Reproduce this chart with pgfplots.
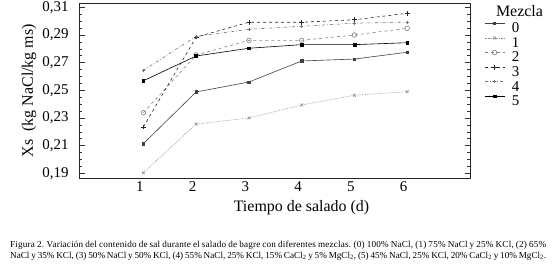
\documentclass[border=0pt]{standalone}
\usepackage{fontspec}
\setmainfont{Liberation Serif}
\usepackage{pgfplots}
\pgfplotsset{compat=1.18}
\begin{document}
\begin{tikzpicture}
\useasboundingbox (0,0) rectangle (556bp,267bp);
\begin{axis}[
  at={(79bp,89bp)}, anchor=south west,
  scale only axis, width=391bp, height=174.7bp,
  xmin=-0.22, xmax=7.19, ymin=0.1866, ymax=0.3129,
  xtick={1,2,3,4,5,6}, xticklabels={1,2,3,4,5,6},
  ytick={0.19,0.21,0.23,0.25,0.27,0.29,0.31},
  yticklabels={{0,19},{0,21},{0,23},{0,25},{0,27},{0,29},{0,31}},
  minor y tick num=3,
  tick align=inside,
  major tick length=5.5bp, minor tick length=3.3bp,
  xtick style={draw=none},
  ytick style={black!80, line width=0.5pt},
  axis line style={black!85, line width=0.8pt},
  /pgf/number format/assume math mode=true,
  ticklabel style={font=\fontsize{15}{15}\selectfont},
  xticklabel style={xshift=-3.5bp},
  yticklabel style={xshift=-7bp},
  xlabel={Tiempo de salado (d)},
  ylabel={Xs\ \ (kg NaCl/kg ms)},
  label style={font=\fontsize{16}{16}\selectfont},
  xlabel style={at={(axis description cs:0.569,-0.17)}, anchor=center},
  ylabel style={at={(axis description cs:-0.128,0.5)}, anchor=center, rotate=0},
  legend style={at={(axis description cs:1.036,0.905)}, anchor=north west,
    draw=none, fill=none, inner sep=0pt,
    font=\fontsize{15}{15}\selectfont,
    cells={anchor=west},
    /tikz/every odd column/.append style={column sep=5bp},
    nodes={inner sep=2bp, text height=10.6bp, text depth=0bp}},
  legend image code/.code={\draw[mark repeat=2,mark phase=2,#1] plot coordinates {(0bp,4bp)(10bp,4bp)(20bp,4bp)};},
  every axis plot/.append style={line width=0.6pt},
]
\addplot[black!75, solid, mark=square*, mark size=1.2pt, mark options={solid}] coordinates {(1,0.2114)(2,0.2488)(3,0.2560)(4,0.2712)(5,0.2726)(6,0.2775)};
\addlegendentry{0}
\addplot[black!45, densely dotted, mark=x, mark size=2pt, mark options={solid}] coordinates {(1,0.1904)(2,0.2256)(3,0.2300)(4,0.2394)(5,0.2464)(6,0.2490)};
\addlegendentry{1}
\addplot[black!50, dashed, mark=o, mark size=2.3pt, mark options={solid}] coordinates {(1,0.2338)(2,0.2755)(3,0.2861)(4,0.2861)(5,0.2900)(6,0.2948)};
\addlegendentry{2}
\addplot[black!85, dashed, mark=+, mark size=2.4pt, mark options={solid}] coordinates {(1,0.2235)(2,0.2885)(3,0.2992)(4,0.2992)(5,0.3010)(6,0.3057)};
\addlegendentry{3}
\addplot[black!55, dashdotted, mark=+, mark size=1.6pt, mark options={solid}] coordinates {(1,0.2644)(2,0.2890)(3,0.2941)(4,0.2963)(5,0.2985)(6,0.2993)};
\addlegendentry{4}
\addplot[black, solid, mark=square*, mark size=1.4pt, mark options={solid}] coordinates {(1,0.2569)(2,0.2748)(3,0.2804)(4,0.2830)(5,0.2830)(6,0.2844)};
\addlegendentry{5}
\end{axis}
\node[font=\fontsize{16}{16}\selectfont] at (519.5bp,256bp) {Mezcla};
\node[anchor=base west, inner sep=0pt, font=\fontsize{9.2}{10}\selectfont] at (10bp,20bp) {\hbox to 536bp{\addfontfeature{LetterSpace=2}\spaceskip=0.25em plus 2em minus 0.05em\xspaceskip=0.3em plus 2em minus 0.05em Figura 2. Variación del contenido de sal durante el salado de bagre con diferentes mezclas. (0) 100\% NaCl, (1) 75\% NaCl y 25\% KCl, (2) 65\%}};
\node[anchor=base west, inner sep=0pt, font=\fontsize{9.2}{10}\selectfont] at (10bp,9bp) {\hbox to 536bp{\spaceskip=0.25em plus 2em minus 0.08em\xspaceskip=0.3em plus 2em minus 0.08em NaCl y 35\% KCl, (3) 50\% NaCl y 50\% KCl, (4) 55\% NaCl, 25\% KCl, 15\% CaCl\textsubscript{2} y 5\% MgCl\textsubscript{2}, (5) 45\% NaCl, 25\% KCl, 20\% CaCl\textsubscript{2} y 10\% MgCl\textsubscript{2}.}};
\end{tikzpicture}
\end{document}
